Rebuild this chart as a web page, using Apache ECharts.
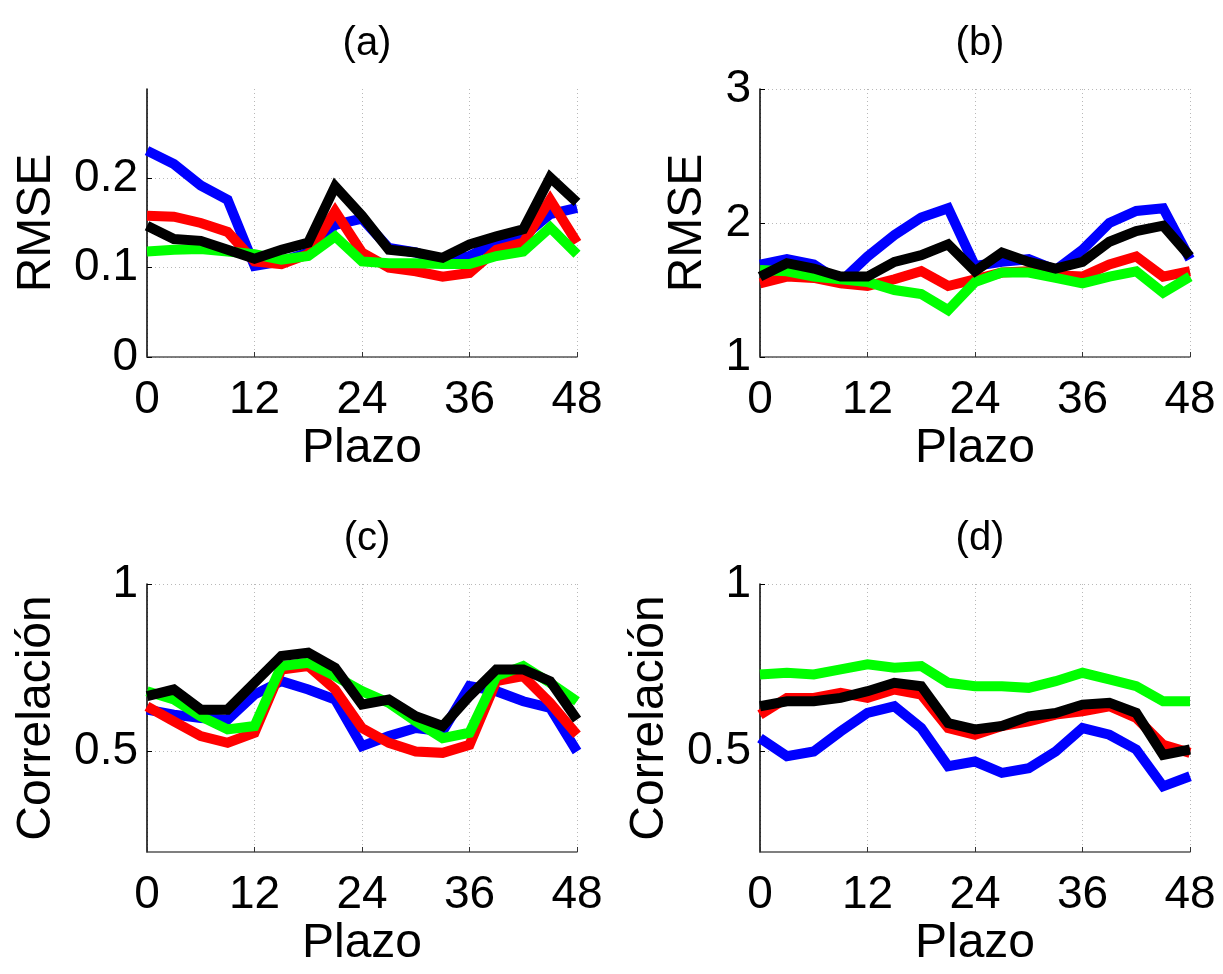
<!DOCTYPE html>
<html>
<head>
<meta charset="utf-8">
<script src="https://cdn.jsdelivr.net/npm/echarts@6/dist/echarts.min.js"></script>
<style>
  html, body { margin: 0; padding: 0; background: #fff; }
  #chart { width: 1223px; height: 974px; }
</style>
</head>
<body>
<div id="chart"></div>
<script>
  // horizonte de predicción (horas)
  var plazo = [0, 3, 6, 9, 12, 15, 18, 21, 24, 27, 30, 33, 36, 39, 42, 45, 48];
  var xTicks = [0, 12, 24, 36, 48];

  // (a) RMSE
  var aBlue  = [0.231, 0.216, 0.192, 0.176, 0.102, 0.107, 0.117, 0.148, 0.155, 0.122, 0.117, 0.107, 0.113, 0.128, 0.135, 0.160, 0.167];
  var aRed   = [0.158, 0.157, 0.150, 0.140, 0.107, 0.104, 0.115, 0.163, 0.117, 0.100, 0.096, 0.090, 0.094, 0.120, 0.128, 0.176, 0.128];
  var aGreen = [0.118, 0.120, 0.121, 0.118, 0.115, 0.109, 0.113, 0.135, 0.107, 0.105, 0.105, 0.104, 0.104, 0.113, 0.118, 0.145, 0.115];
  var aBlack = [0.147, 0.132, 0.130, 0.120, 0.110, 0.120, 0.128, 0.191, 0.158, 0.120, 0.117, 0.111, 0.126, 0.135, 0.143, 0.201, 0.173];

  // (b) RMSE
  var bBlue  = [1.69, 1.73, 1.69, 1.56, 1.75, 1.91, 2.04, 2.11, 1.68, 1.71, 1.73, 1.65, 1.80, 2.00, 2.09, 2.11, 1.73];
  var bRed   = [1.55, 1.60, 1.59, 1.55, 1.53, 1.58, 1.64, 1.53, 1.58, 1.63, 1.64, 1.61, 1.60, 1.69, 1.75, 1.60, 1.64];
  var bGreen = [1.65, 1.64, 1.60, 1.58, 1.56, 1.50, 1.47, 1.35, 1.56, 1.63, 1.63, 1.59, 1.55, 1.60, 1.64, 1.48, 1.60];
  var bBlack = [1.60, 1.70, 1.66, 1.60, 1.60, 1.71, 1.76, 1.84, 1.64, 1.78, 1.71, 1.66, 1.71, 1.86, 1.94, 1.98, 1.75];

  // (c) Correlación
  var cBlue  = [0.625, 0.610, 0.600, 0.595, 0.670, 0.710, 0.685, 0.655, 0.516, 0.546, 0.570, 0.560, 0.695, 0.680, 0.650, 0.630, 0.500];
  var cRed   = [0.635, 0.590, 0.546, 0.526, 0.556, 0.745, 0.755, 0.685, 0.570, 0.526, 0.500, 0.496, 0.520, 0.710, 0.725, 0.645, 0.550];
  var cGreen = [0.680, 0.655, 0.605, 0.566, 0.576, 0.755, 0.765, 0.725, 0.680, 0.645, 0.590, 0.540, 0.556, 0.725, 0.755, 0.705, 0.650];
  var cBlack = [0.665, 0.685, 0.625, 0.625, 0.705, 0.785, 0.795, 0.750, 0.640, 0.655, 0.605, 0.576, 0.665, 0.745, 0.745, 0.710, 0.595];

  // (d) Correlación
  var dBlue  = [0.540, 0.486, 0.500, 0.560, 0.615, 0.635, 0.570, 0.456, 0.470, 0.436, 0.450, 0.500, 0.570, 0.550, 0.506, 0.396, 0.426];
  var dRed   = [0.610, 0.660, 0.660, 0.675, 0.660, 0.685, 0.670, 0.570, 0.550, 0.576, 0.590, 0.610, 0.620, 0.635, 0.600, 0.520, 0.496];
  var dGreen = [0.730, 0.735, 0.730, 0.745, 0.760, 0.750, 0.755, 0.705, 0.695, 0.695, 0.690, 0.710, 0.735, 0.715, 0.695, 0.650, 0.650];
  var dBlack = [0.635, 0.650, 0.650, 0.660, 0.680, 0.705, 0.695, 0.585, 0.566, 0.576, 0.605, 0.615, 0.640, 0.645, 0.615, 0.490, 0.506];

  var font = 'Liberation Sans, Arial, Helvetica, sans-serif';
  var colors = ['#0000ff', '#ff0000', '#00ff00', '#000000'];

  var panels = [
    { title: '(a)', name: 'RMSE', min: 0, max: 0.3, ticks: [0, 0.1, 0.2], gap: 86, data: [aBlue, aRed, aGreen, aBlack] },
    { title: '(b)', name: 'RMSE', min: 1, max: 3, ticks: [1, 2, 3], gap: 48, data: [bBlue, bRed, bGreen, bBlack] },
    { title: '(c)', name: 'Correlación', min: 0.2, max: 1, ticks: [0.5, 1], gap: 86, data: [cBlue, cRed, cGreen, cBlack] },
    { title: '(d)', name: 'Correlación', min: 0.2, max: 1, ticks: [0.5, 1], gap: 86, data: [dBlue, dRed, dGreen, dBlack] }
  ];
  var lefts = [147, 760, 147, 760];
  var tops = [89, 89, 584, 584];

  function pairs(ys) {
    return plazo.map(function (x, i) { return [x, ys[i]]; });
  }

  var chart = echarts.init(document.getElementById('chart'));
  var option = {
    backgroundColor: '#ffffff',
    animation: false,
    title: [],
    grid: [],
    xAxis: [],
    yAxis: [],
    series: []
  };

  panels.forEach(function (p, k) {
    option.title.push({
      text: p.title,
      left: lefts[k] + 215,
      top: tops[k] - 70,
      textAlign: 'center',
      textStyle: { fontFamily: font, fontSize: 40, fontWeight: 'normal', color: '#000' }
    });
    option.grid.push({ left: lefts[k], top: tops[k], width: 430, height: 268 });
    option.xAxis.push({
      gridIndex: k,
      type: 'value',
      min: 0,
      max: 48,
      interval: 12,
      name: 'Plazo',
      nameLocation: 'middle',
      nameGap: 68,
      nameTextStyle: { fontFamily: font, fontSize: 48, color: '#000' },
      axisLine: { lineStyle: { color: '#555', width: 1.5 } },
      axisTick: { inside: true, length: 5, lineStyle: { color: '#333' }, customValues: xTicks },
      axisLabel: { fontFamily: font, fontSize: 46, color: '#000', margin: 20, customValues: xTicks },
      splitLine: { show: true, lineStyle: { color: '#b8b8b8', type: [1, 3], width: 1 } }
    });
    option.yAxis.push({
      gridIndex: k,
      type: 'value',
      min: p.min,
      max: p.max,
      name: p.name,
      nameLocation: 'middle',
      nameRotate: 90,
      nameGap: p.gap,
      nameTextStyle: { fontFamily: font, fontSize: 48, color: '#000' },
      axisLine: { show: true, lineStyle: { color: '#000', width: 1.5 } },
      axisTick: { show: true, inside: true, length: 5, lineStyle: { color: '#000' }, customValues: p.ticks },
      axisLabel: { fontFamily: font, fontSize: 46, color: '#000', margin: 9, customValues: p.ticks },
      splitLine: { show: true, lineStyle: { color: '#b8b8b8', type: [1, 3], width: 1 } }
    });
    p.data.forEach(function (ys, j) {
      option.series.push({
        type: 'line',
        xAxisIndex: k,
        yAxisIndex: k,
        data: pairs(ys),
        symbol: 'none',
        clip: false,
        z: 2 + j,
        lineStyle: { color: colors[j], width: 10, join: 'miter' }
      });
    });
  });

  chart.setOption(option);
</script>
</body>
</html>
